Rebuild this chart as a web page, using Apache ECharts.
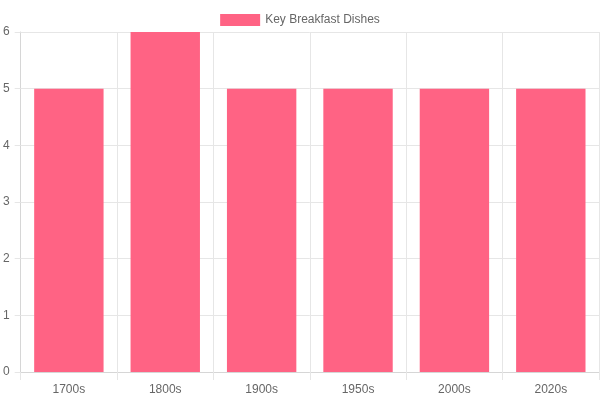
<!DOCTYPE html>
<html>
<head>
<meta charset="utf-8">
<script src="https://cdn.jsdelivr.net/npm/echarts@6/dist/echarts.min.js"></script>
<style>
  html, body { margin: 0; padding: 0; background: #fff; }
  #chart { width: 600px; height: 400px; }
</style>
</head>
<body>
<div id="chart"></div>
<script>
const eras = ["1700s", "1800s", "1900s", "1950s", "2000s", "2020s"];
const dishCounts = [5, 6, 5, 5, 5, 5];
const seriesName = "Key Breakfast Dishes";

const gridColor = "#e6e6e6";
const axisColor = "#d6d6d6";
const textColor = "#666";
const barColor = "#ff6384";

const chart = echarts.init(document.getElementById("chart"));
chart.setOption({
  animation: false,
  textStyle: { fontFamily: "Liberation Sans, Arial, sans-serif" },
  legend: {
    top: 9,
    left: "center",
    itemWidth: 40,
    itemHeight: 12,
    itemGap: 10,
    icon: "rect",
    textStyle: { color: textColor, fontSize: 12 },
    data: [seriesName]
  },
  grid: { left: 20, right: 1, top: 32, bottom: 28, containLabel: false },
  xAxis: {
    type: "category",
    data: eras,
    axisLine: { lineStyle: { color: axisColor } },
    axisTick: { show: true, length: 8, lineStyle: { color: gridColor } },
    splitLine: { show: true, lineStyle: { color: gridColor } },
    axisLabel: { color: textColor, fontSize: 12, margin: 12 }
  },
  yAxis: {
    type: "value",
    min: 0,
    max: 6,
    interval: 1,
    axisLine: { show: true, lineStyle: { color: axisColor } },
    axisTick: { show: true, length: 6, lineStyle: { color: gridColor } },
    splitLine: { lineStyle: { color: gridColor } },
    axisLabel: { color: textColor, fontSize: 12, margin: 11 }
  },
  series: [{
    name: seriesName,
    type: "bar",
    data: dishCounts,
    barWidth: "72%",
    itemStyle: { color: barColor }
  }]
});
</script>
</body>
</html>
